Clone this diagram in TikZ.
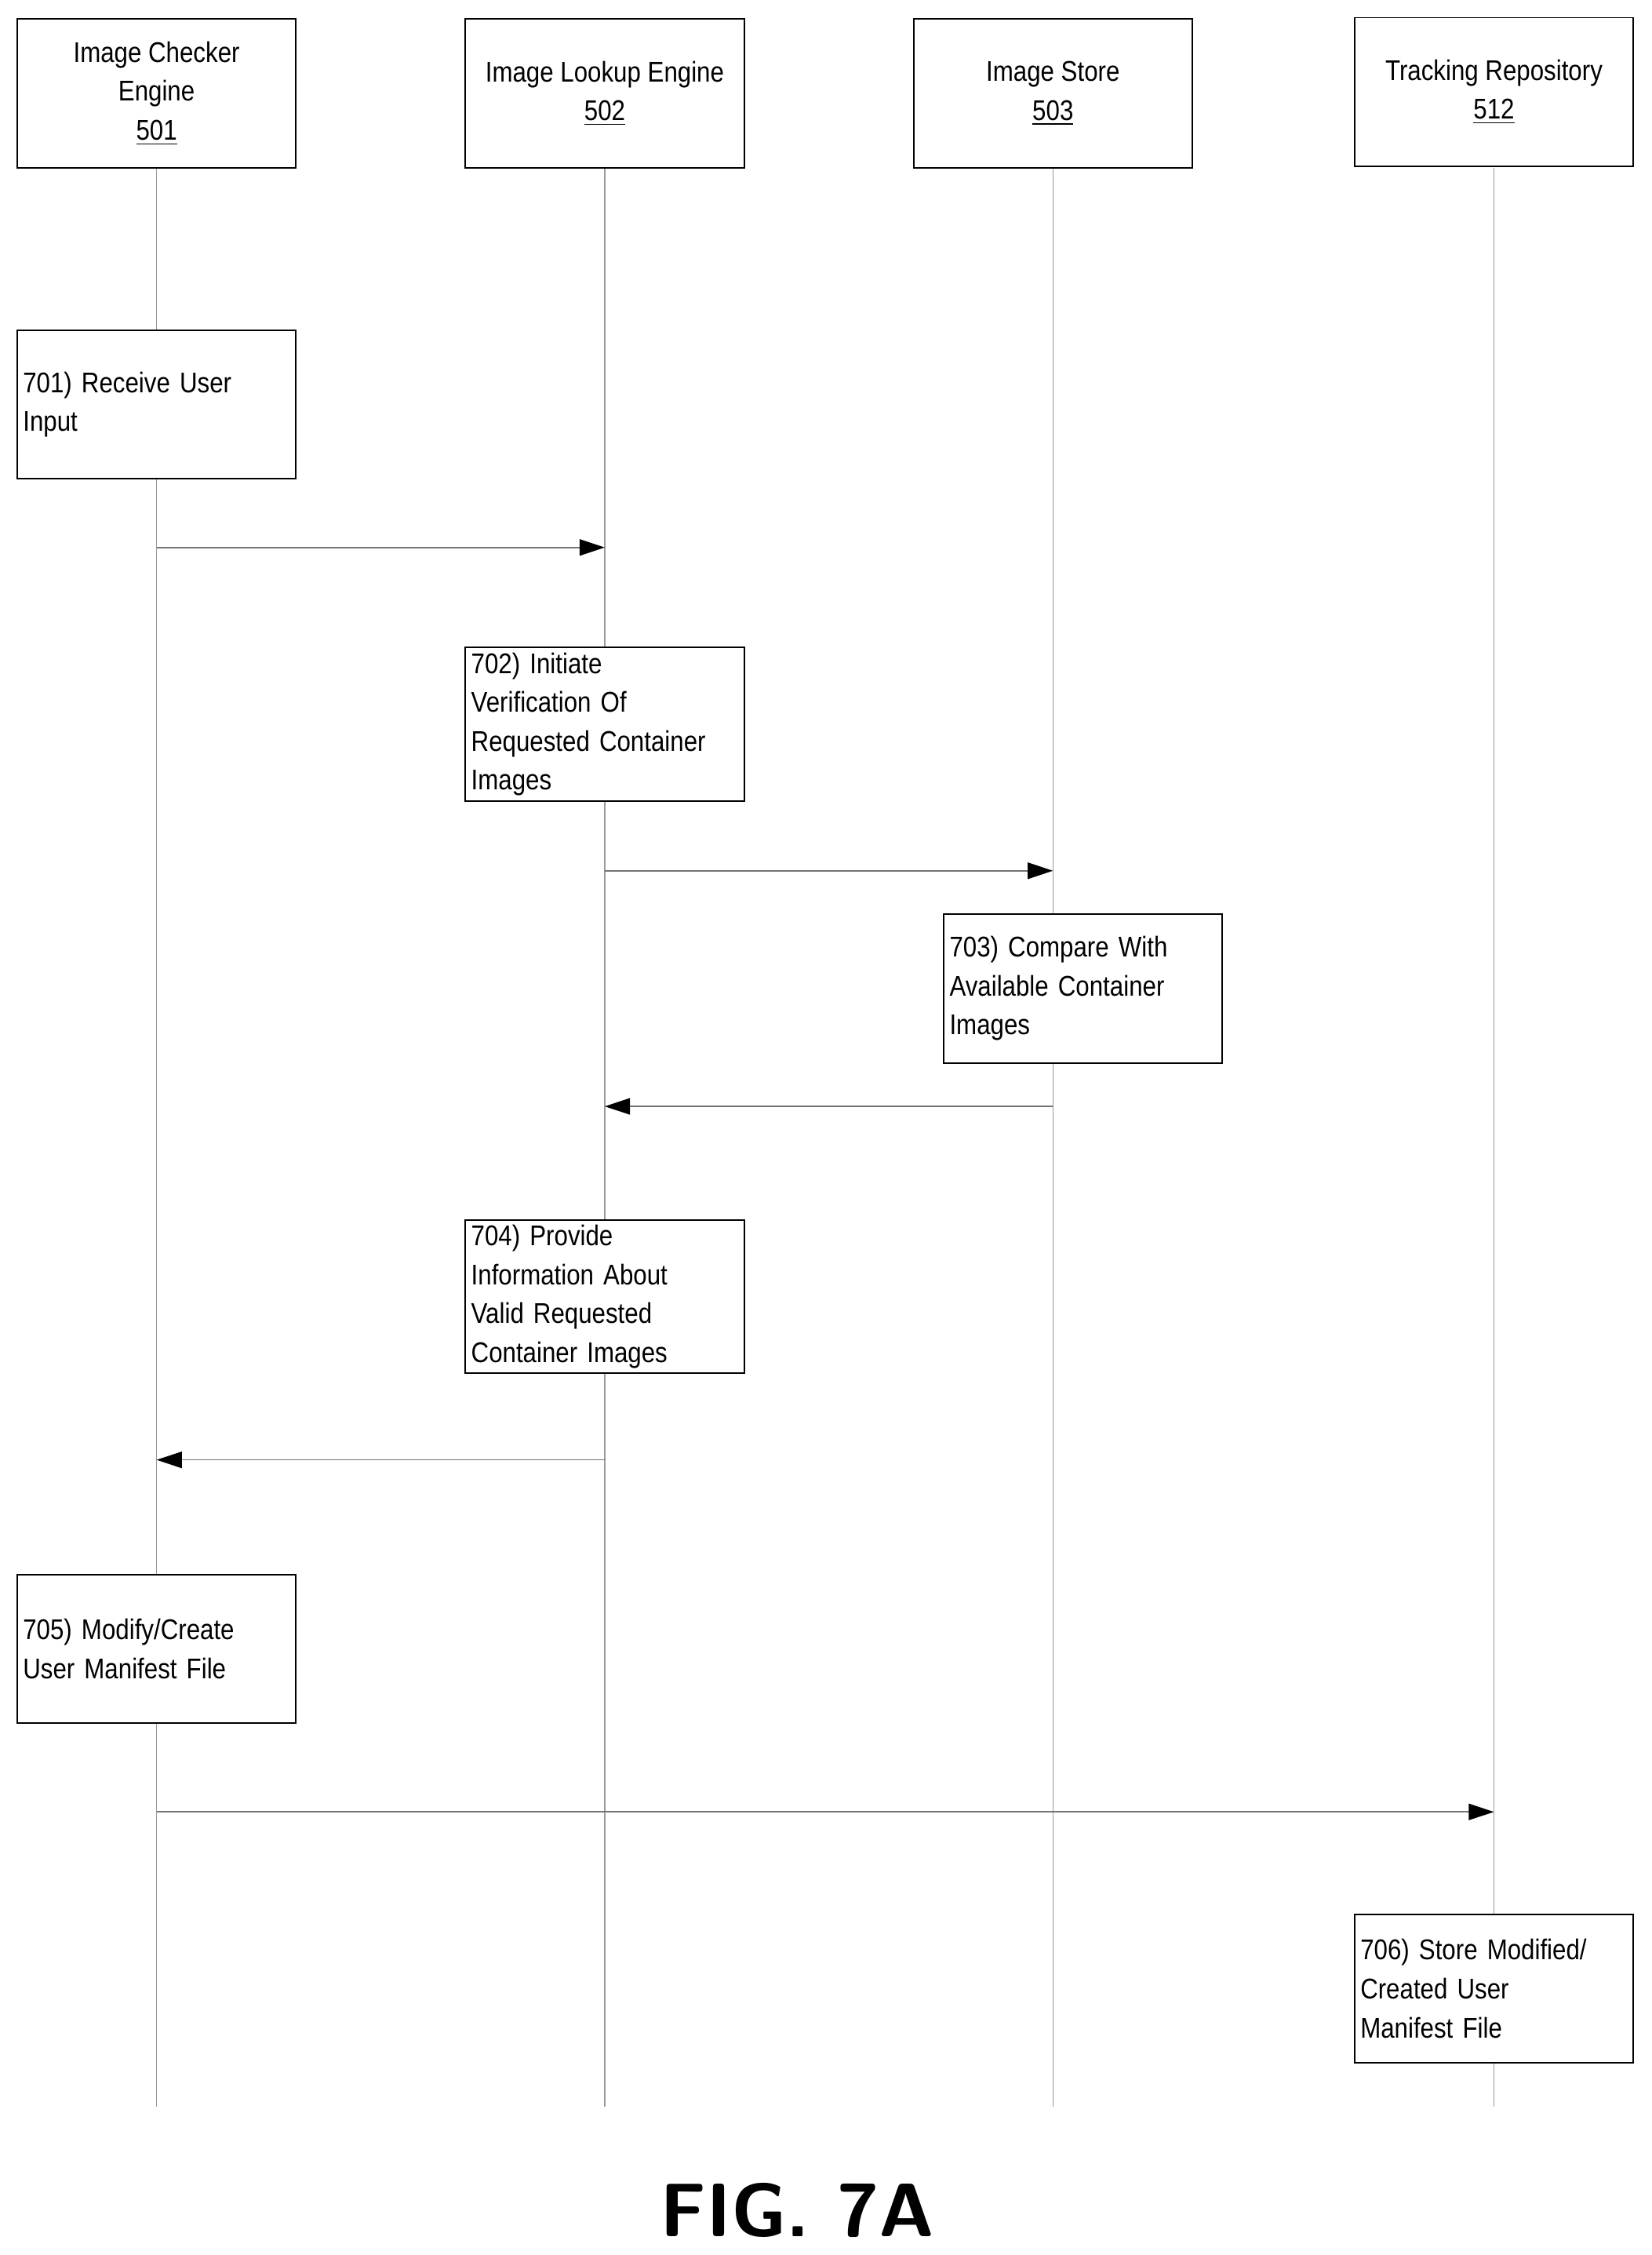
\documentclass[tikz,border=0pt]{standalone}
\usepackage{fontspec}
\setmainfont{Liberation Sans}[FakeStretch=0.86]
\usetikzlibrary{positioning}
\usetikzlibrary{arrows.meta}
\begin{document}
\begin{tikzpicture}[x=0.02cm, y=-0.02cm,
  actor/.style={draw, fill=white, line width=0.6pt, minimum width=3.88cm, minimum height=2.07cm, align=center, inner sep=2pt, font=\fontsize{11.3}{15.4}\selectfont},
  stepbox/.style={draw, fill=white, line width=0.6pt, minimum width=3.88cm, minimum height=2.07cm, text width=3.72cm, align=left, inner sep=2pt, font=\fontsize{11.3}{15.4}\selectfont},
  life/.style={gray!80, line width=0.5pt},
  msg/.style={gray!90!black, line width=0.5pt, -{Triangle[length=10pt,width=6.5pt,black]}}]

\useasboundingbox (0,0) rectangle (1150,1569.4);

% lifelines
\foreach \n/\x in {one/109, two/421, three/733, four/1040} {
  \coordinate (\n top) at (\x,117);
  \coordinate (\n end) at (\x,1466);
  \draw[life] (\n top) -- (\n end);
}

% actors
\node[actor] (checker) at (109,65) {Image Checker\\Engine\\\underline{501}};
\node[actor] (lookup) at (421,65) {Image Lookup Engine\\\underline{502}};
\node[actor] (store) at (733,65) {Image Store\\\underline{503}};
\node[actor] (repo) at (1040,64) {Tracking Repository\\\underline{512}};

% steps
\node[stepbox] (s701) at (109,281.5) {701) Receive User\\Input};
\node[stepbox] (s702) at (421,504) {702) Initiate\\Verification Of\\Requested Container\\Images};
\node[stepbox] (s703) at (754,688) {703) Compare With\\Available Container\\Images};
\node[stepbox] (s704) at (421,902.5) {704) Provide\\Information About\\Valid Requested\\Container Images};
\node[stepbox] (s705) at (109,1147.5) {705) Modify/Create\\User Manifest File};
\node[stepbox] (s706) at (1040,1384) {706) Store Modified/\\Created User\\Manifest File};

% messages
\coordinate (m1a) at (109,381);  \coordinate (m1b) at (421,381);
\coordinate (m2a) at (421,606);  \coordinate (m2b) at (733,606);
\coordinate (m3a) at (733,770);  \coordinate (m3b) at (421,770);
\coordinate (m4a) at (421,1016); \coordinate (m4b) at (109,1016);
\coordinate (m5a) at (109,1261); \coordinate (m5b) at (1040,1261);
\foreach \a/\b in {m1a/m1b, m2a/m2b, m3a/m3b, m4a/m4b, m5a/m5b}
  \draw[msg] (\a) -- (\b);

\node[font=\fontsize{30}{34}\selectfont\sffamily\bfseries] (fig) at (555,1538) {FIG. 7A};

\end{tikzpicture}
\end{document}
